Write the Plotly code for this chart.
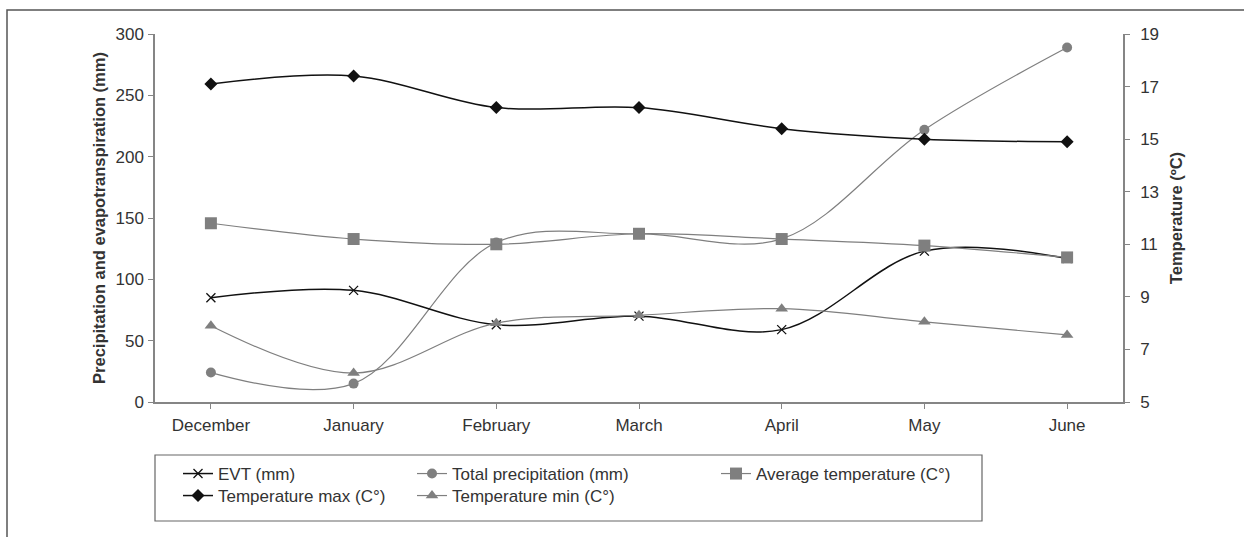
import plotly.graph_objects as go

months = ["December", "January", "February", "March", "April", "May", "June"]
evt_mm = [85, 91, 63, 70, 59, 123, 117]
precip_mm = [24, 15, 130, 137, 133, 222, 289]
temp_avg = [11.8, 11.2, 11.0, 11.4, 11.2, 10.95, 10.5]
temp_max = [17.1, 17.4, 16.2, 16.2, 15.4, 15.0, 14.9]
temp_min = [7.9, 6.1, 8.0, 8.3, 8.55, 8.05, 7.55]

W, H = 1244, 537
L, R, T, B = 155, 1123, 34, 402
PW, PH = R - L, B - T

def px(x):
    return (x - L) / PW

def py(y):
    return (B - y) / PH

FONT = "Liberation Sans, Arial, sans-serif"
BLACK = "#111111"
GRAY = "#7f7f7f"
TXT = "#333333"
AX = "#858585"
FS = 17

fig = go.Figure()

fig.add_trace(go.Scatter(
    x=months, y=precip_mm, name="Total precipitation (mm)", legend="legend3",
    mode="lines+markers", line=dict(color=GRAY, width=1.2, shape="spline", smoothing=1),
    marker=dict(symbol="circle", size=10, color=GRAY)))
fig.add_trace(go.Scatter(
    x=months, y=evt_mm, name="EVT (mm)", legend="legend",
    mode="lines+markers", line=dict(color=BLACK, width=1.5, shape="spline", smoothing=1),
    marker=dict(symbol="x-thin", size=9, line=dict(color=BLACK, width=1.3), color=BLACK)))
fig.add_trace(go.Scatter(
    x=months, y=temp_min, name="Temperature min (C°)", legend="legend4", yaxis="y2",
    mode="lines+markers", line=dict(color=GRAY, width=1.2, shape="spline", smoothing=1),
    marker=dict(symbol="triangle-up", size=11, color=GRAY)))
fig.add_trace(go.Scatter(
    x=months, y=temp_avg, name="Average temperature (C°)", legend="legend5", yaxis="y2",
    mode="lines+markers", line=dict(color=GRAY, width=1.2, shape="spline", smoothing=1),
    marker=dict(symbol="square", size=12, color=GRAY)))
fig.add_trace(go.Scatter(
    x=months, y=temp_max, name="Temperature max (C°)", legend="legend2", yaxis="y2",
    mode="lines+markers", line=dict(color=BLACK, width=1.5, shape="spline", smoothing=1),
    marker=dict(symbol="diamond", size=10, color=BLACK)))

row1, row2 = 474, 496
col1, col2, col3 = 178, 412, 716

def leg(xp, yp):
    return dict(x=px(xp), y=py(yp), xanchor="left", yanchor="middle",
                bgcolor="rgba(0,0,0,0)", borderwidth=0,
                font=dict(family=FONT, size=FS, color=TXT), orientation="v")

fig.update_layout(
    width=W, height=H,
    margin=dict(l=L, r=W - R, t=T, b=H - B, autoexpand=False),
    paper_bgcolor="white", plot_bgcolor="white",
    font=dict(family=FONT, size=FS, color=TXT),
    showlegend=True,
    legend=leg(col1, row1),
    legend2=leg(col1, row2),
    legend3=leg(col2, row1),
    legend4=leg(col2, row2),
    legend5=leg(col3, row1),
    xaxis=dict(showline=True, linecolor=AX, linewidth=1.5, ticks="outside", ticklen=5,
               tickcolor=AX, showgrid=False, zeroline=False, automargin=False,
               ticklabelstandoff=2,
               tickfont=dict(family=FONT, size=FS, color=TXT)),
    yaxis=dict(range=[0, 300], dtick=50, showline=True, linecolor=AX, linewidth=1.5,
               ticks="outside", ticklen=5, tickcolor=AX, showgrid=False, zeroline=False,
               automargin=False, ticklabelstandoff=1,
               tickfont=dict(family=FONT, size=FS, color=TXT),
               title=dict(text="<b>Precipitation and evapotranspiration (mm)</b>",
                          font=dict(family=FONT, size=16.5, color=TXT), standoff=6)),
    yaxis2=dict(range=[5, 19], tick0=5, dtick=2, overlaying="y", side="right", showline=True,
                linecolor=AX, linewidth=1.5, ticks="outside", ticklen=5, tickcolor=AX,
                showgrid=False, zeroline=False, automargin=False, ticklabelstandoff=7,
                tickfont=dict(family=FONT, size=FS, color=TXT),
                title=dict(text="<b>Temperature (ºC)</b>",
                           font=dict(family=FONT, size=16.5, color=TXT), standoff=12)),
    shapes=[
        dict(type="rect", xref="paper", yref="paper",
             x0=px(7), x1=px(1260), y0=py(560), y1=py(10),
             line=dict(color="#555555", width=1.5), fillcolor="rgba(0,0,0,0)", layer="below"),
        dict(type="rect", xref="paper", yref="paper",
             x0=px(155), x1=px(982), y0=py(521), y1=py(455),
             line=dict(color="#666666", width=1.2), fillcolor="rgba(0,0,0,0)"),
    ],
)

fig.write_html("out.html", config={"displayModeBar": False},
               post_script="document.body.style.margin='0';")
